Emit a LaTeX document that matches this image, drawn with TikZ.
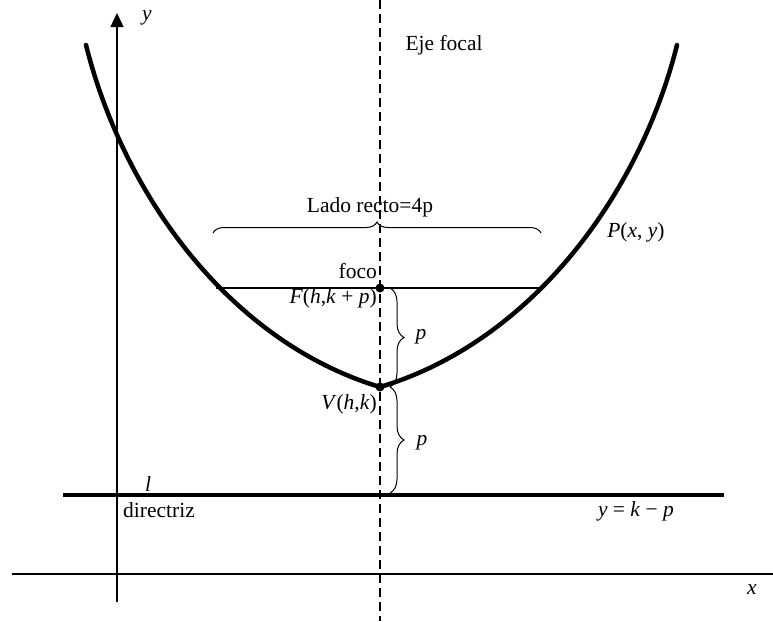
\documentclass[tikz,border=0pt]{standalone}
\usepackage{fontspec}
\setmainfont{Liberation Serif}
\usetikzlibrary{arrows.meta,decorations.pathreplacing}
\newcommand\mi[1]{\textit{#1}}
\begin{document}
\begin{tikzpicture}[x=1pt,y=-1pt,
  lbl/.style={inner sep=0pt, font=\fontsize{21.5}{24}\selectfont},
  curvestyle/.style={line width=4.5pt, line cap=round, line join=round},
  axisstyle/.style={line width=1.3pt},
  thinline/.style={line width=1.2pt},
  bracestyle/.style={line width=1pt, decorate, decoration={brace, amplitude=#1}},
  dotstyle/.style={circle, fill=black, inner sep=0pt, minimum size=9pt},
  axisdash/.style={line width=1.2pt, dash pattern=on 9pt off 5pt}]
\useasboundingbox (0,0) rectangle (773,621);

% axes
\coordinate (yb) at (117,602);
\coordinate (yt) at (117,13);
\coordinate (xl) at (12,574);
\coordinate (xr) at (783,574);
\draw[axisstyle] (xl) -- (xr);
\draw[axisstyle,-{Triangle[length=14pt,width=13pt]}] (yb) -- (yt);
\node[lbl] (ylab) at (147,18) {\mi{y}};
\node[lbl] (xlab) at (752,590) {\mi{x}};

% focal axis
\coordinate (ft) at (380,0);
\coordinate (fb) at (380,621);
\draw[axisdash] (ft) -- (fb);
\node[lbl] (eje) at (444,45) {Eje focal};

% latus rectum
\coordinate (LL) at (216,288);
\coordinate (LR) at (544,288);
\draw[thinline] (LL) -- (LR);

% parabola
\coordinate (Vc) at (380,387);
\coordinate (endL) at (86,45);
\coordinate (endR) at (677,45);
\draw[curvestyle] (Vc) .. controls (230,342) and (123.5,195) .. (endL);
\draw[curvestyle] (Vc) .. controls (531,342) and (639.5,195) .. (endR);

% points
\node[dotstyle] (F) at (380,288) {};
\node[dotstyle] (V) at (380,387) {};

% directrix
\coordinate (dl) at (63,495);
\coordinate (dr) at (724,495);
\draw[line width=4pt] (dl) -- (dr);

% braces
\coordinate (b1) at (213,233);
\coordinate (b2) at (541,233);
\draw[bracestyle=11pt] (b1) -- (b2);
\node[lbl] (lado) at (370,207) {Lado recto=4p};

\coordinate (c1) at (390,288);
\coordinate (c2) at (390,387);
\coordinate (c3) at (390,493);
\draw[bracestyle=14pt] (c1) -- (c2);
\draw[bracestyle=14pt] (c2) -- (c3);
\node[lbl] (p1) at (421,337) {\mi{p}};
\node[lbl] (p2) at (422,443) {\mi{p}};

% labels
\node[lbl, anchor=east] (foco) at (377,271) {foco};
\node[lbl, anchor=east] (Flab) at (377,298) {\mi{F}(\mi{h},\mi{k} + \mi{p})};
\node[lbl, anchor=east] (Vlab) at (377,404) {\mi{V}(\mi{h},\mi{k})};
\node[lbl] (Plab) at (636,232) {\mi{P}(\mi{x}, \mi{y})};
\node[lbl] (llab) at (148,484) {\mi{l}};
\node[lbl] (dir) at (159,510) {directriz};
\node[lbl] (eq) at (636,511) {\mi{y} = \mi{k} − \mi{p}};
\end{tikzpicture}
\end{document}
